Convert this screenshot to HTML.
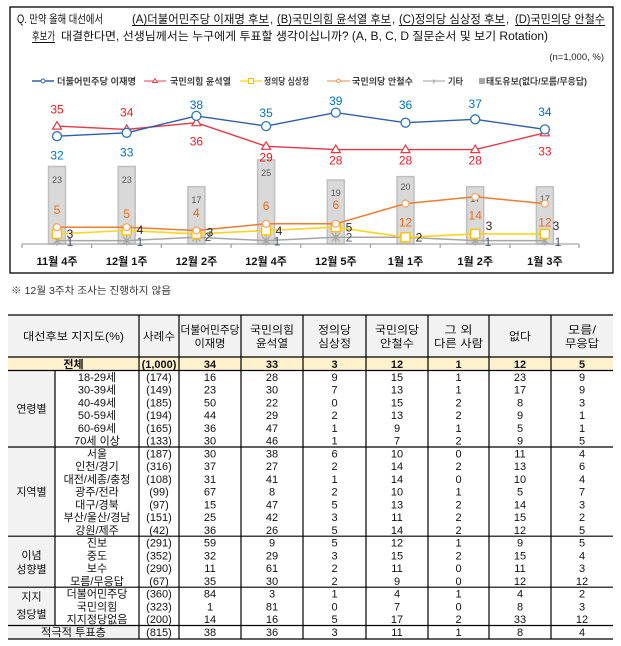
<!DOCTYPE html>
<html><head><meta charset="utf-8">
<style>
html,body{margin:0;padding:0;background:#fff;}
svg{display:block;}
text{font-family:"Liberation Sans","Noto Sans CJK KR",sans-serif;}
</style></head>
<body>
<svg width="621" height="646" viewBox="0 0 621 646" xmlns="http://www.w3.org/2000/svg">
<rect x="0" y="0" width="621" height="646" fill="#fff"/>
<!-- chart frame -->
<rect x="10" y="7" width="603" height="266" fill="none" stroke="#000" stroke-width="1.3"/>
<!-- title -->
<g font-size="11.5" fill="#111">
<text x="17" y="23" textLength="86" lengthAdjust="spacingAndGlyphs">Q. 만약 올해 대선에서</text>
<text x="132" y="23" textLength="137" lengthAdjust="spacingAndGlyphs">(A)더불어민주당 이재명 후보</text>
<text x="270" y="23">,</text>
<text x="277" y="23" textLength="114" lengthAdjust="spacingAndGlyphs">(B)국민의힘 윤석열 후보</text>
<text x="392" y="23">,</text>
<text x="399" y="23" textLength="106" lengthAdjust="spacingAndGlyphs">(C)정의당 심상정 후보</text>
<text x="506" y="23">,</text>
<text x="515" y="23" textLength="90" lengthAdjust="spacingAndGlyphs">(D)국민의당 안철수</text>
<text x="32" y="40" textLength="23" lengthAdjust="spacingAndGlyphs">후보가</text>
<text x="61" y="40" textLength="487" lengthAdjust="spacingAndGlyphs">대결한다면, 선생님께서는 누구에게 투표할 생각이십니까? (A, B, C, D 질문순서 및 보기 Rotation)</text>
</g>
<g stroke="#111" stroke-width="1">
<line x1="132" y1="25.5" x2="269" y2="25.5"/>
<line x1="277" y1="25.5" x2="391" y2="25.5"/>
<line x1="399" y1="25.5" x2="505" y2="25.5"/>
<line x1="515" y1="25.5" x2="605" y2="25.5"/>
<line x1="32" y1="42.5" x2="55" y2="42.5"/>
</g>
<text x="604" y="60" font-size="9.5" fill="#222" text-anchor="end">(n=1,000, %)</text>

<!-- legend -->
<g font-size="9" font-weight="bold" fill="#404040">
<line x1="32" y1="81" x2="54" y2="81" stroke="#2e64ae" stroke-width="1.5"/>
<circle cx="43" cy="81" r="2" fill="#fff" stroke="#2e64ae" stroke-width="1"/>
<text x="57" y="84.5" textLength="79" lengthAdjust="spacingAndGlyphs">더불어민주당 이재명</text>
<line x1="144" y1="81" x2="166" y2="81" stroke="#f08090" stroke-width="1.5"/>
<path d="M155,78.5 L157.5,82.5 L152.5,82.5 Z" fill="#fff" stroke="#e53946" stroke-width="0.9"/>
<text x="170" y="84.5" textLength="61" lengthAdjust="spacingAndGlyphs">국민의힘 윤석열</text>
<line x1="240" y1="81" x2="262" y2="81" stroke="#ffd84a" stroke-width="1.5"/>
<rect x="248.5" y="78.5" width="5" height="5" fill="#fff" stroke="#ffc000" stroke-width="1"/>
<text x="264" y="84.5" textLength="45" lengthAdjust="spacingAndGlyphs">정의당 심상정</text>
<line x1="327" y1="81" x2="350" y2="81" stroke="#f4b183" stroke-width="1.5"/>
<circle cx="338.5" cy="81" r="1.8" fill="#fff" stroke="#ed7d31" stroke-width="0.8"/>
<text x="352" y="84.5" textLength="61" lengthAdjust="spacingAndGlyphs">국민의당 안철수</text>
<line x1="423" y1="81" x2="445" y2="81" stroke="#bfbfbf" stroke-width="1.5"/>
<text x="434" y="83.5" font-size="7" fill="#999" text-anchor="middle" font-weight="normal">x</text>
<text x="448" y="84.5" textLength="15" lengthAdjust="spacingAndGlyphs">기타</text>
<rect x="479" y="78" width="6" height="6" fill="#a6a6a6"/>
<text x="486" y="84.5" textLength="101" lengthAdjust="spacingAndGlyphs">태도유보(없다/모름/무응답)</text>
</g>

<!-- bars -->
<g fill="#d9d9d9" stroke="#bfbfbf" stroke-width="1.5">
<rect x="48.5" y="166.5" width="17" height="77.5"/>
<rect x="118.2" y="166.5" width="17" height="77.5"/>
<rect x="187.9" y="186.7" width="17" height="57.3"/>
<rect x="257.6" y="159.8" width="17" height="84.2"/>
<rect x="327.3" y="180" width="17" height="64"/>
<rect x="397" y="176.6" width="17" height="67.4"/>
<rect x="466.7" y="186.7" width="17" height="57.3"/>
<rect x="536.4" y="186.7" width="17" height="57.3"/>
</g>
<g font-size="9" fill="#595959" text-anchor="middle">
<text x="57" y="183">23</text>
<text x="126.7" y="183">23</text>
<text x="196.4" y="203">17</text>
<text x="266.1" y="176">25</text>
<text x="335.8" y="196">19</text>
<text x="405.5" y="190">20</text>
<text x="475.2" y="202">17</text>
<text x="544.9" y="202">17</text>
</g>

<!-- axis -->
<g stroke="#a6a6a6" stroke-width="1.3">
<line x1="22" y1="244" x2="579" y2="244"/>
<line x1="22" y1="244" x2="22" y2="248"/>
<line x1="91.7" y1="244" x2="91.7" y2="248"/>
<line x1="161.4" y1="244" x2="161.4" y2="248"/>
<line x1="231.1" y1="244" x2="231.1" y2="248"/>
<line x1="300.8" y1="244" x2="300.8" y2="248"/>
<line x1="370.5" y1="244" x2="370.5" y2="248"/>
<line x1="440.2" y1="244" x2="440.2" y2="248"/>
<line x1="509.9" y1="244" x2="509.9" y2="248"/>
<line x1="579" y1="244" x2="579" y2="248"/>
</g>
<g font-size="11" font-weight="bold" fill="#111" text-anchor="middle">
<text x="57" y="265">11월 4주</text>
<text x="126.7" y="265">12월 1주</text>
<text x="196.4" y="265">12월 2주</text>
<text x="266.1" y="265">12월 4주</text>
<text x="335.8" y="265">12월 5주</text>
<text x="405.5" y="265">1월 1주</text>
<text x="475.2" y="265">1월 2주</text>
<text x="544.9" y="265">1월 3주</text>
</g>

<!-- gray line (기타) -->
<polyline points="57,240.6 126.7,240.6 196.4,237.3 266.1,240.6 335.8,237.3 405.5,237.3 475.2,240.6 544.9,240.6" fill="none" stroke="#a6a6a6" stroke-width="1.5"/>
<g stroke="#a6a6a6" stroke-width="1.2">
<path d="M53,236.6 l8,8 M61,236.6 l-8,8 M57,235.6 v10"/>
<path d="M122.7,236.6 l8,8 M130.7,236.6 l-8,8 M126.7,235.6 v10"/>
<path d="M192.4,233.3 l8,8 M200.4,233.3 l-8,8 M196.4,232.3 v10"/>
<path d="M262.1,236.6 l8,8 M270.1,236.6 l-8,8 M266.1,235.6 v10"/>
<path d="M331.8,233.3 l8,8 M339.8,233.3 l-8,8 M335.8,232.3 v10"/>
<path d="M401.5,233.3 l8,8 M409.5,233.3 l-8,8 M405.5,232.3 v10"/>
<path d="M471.2,236.6 l8,8 M479.2,236.6 l-8,8 M475.2,235.6 v10"/>
<path d="M540.9,236.6 l8,8 M548.9,236.6 l-8,8 M544.9,235.6 v10"/>
</g>

<!-- yellow line -->
<polyline points="57,233.9 126.7,230.5 196.4,233.9 266.1,230.5 335.8,227.2 405.5,237.3 475.2,233.9 544.9,233.9" fill="none" stroke="#ffd320" stroke-width="1.6"/>
<g fill="#fff" stroke="#ffc000" stroke-width="1.4">
<rect x="52.5" y="229.4" width="9" height="9"/>
<rect x="122.2" y="226" width="9" height="9"/>
<rect x="191.9" y="229.4" width="9" height="9"/>
<rect x="261.6" y="226" width="9" height="9"/>
<rect x="331.3" y="222.7" width="9" height="9"/>
<rect x="401" y="232.8" width="9" height="9"/>
<rect x="470.7" y="229.4" width="9" height="9"/>
<rect x="540.4" y="229.4" width="9" height="9"/>
</g>

<!-- orange line -->
<polyline points="57,227.2 126.7,227.2 196.4,230.5 266.1,223.8 335.8,223.8 405.5,203.6 475.2,196.8 544.9,203.6" fill="none" stroke="#ed7d31" stroke-width="1.5"/>
<g fill="#fff" stroke="#f4a46a" stroke-width="1.2">
<circle cx="57" cy="227.2" r="3.5"/>
<circle cx="126.7" cy="227.2" r="3.5"/>
<circle cx="196.4" cy="230.5" r="3.5"/>
<circle cx="266.1" cy="223.8" r="3.5"/>
<circle cx="335.8" cy="223.8" r="3.5"/>
<circle cx="405.5" cy="203.6" r="3.5"/>
<circle cx="475.2" cy="196.8" r="3.5"/>
<circle cx="544.9" cy="203.6" r="3.5"/>
</g>

<!-- red line -->
<polyline points="57,126.1 126.7,129.4 196.4,122.7 266.1,146.3 335.8,149.6 405.5,149.6 475.2,149.6 544.9,132.8" fill="none" stroke="#e53946" stroke-width="1.4"/>
<g fill="#fff" stroke="#e53946" stroke-width="1.2">
<path d="M57,121.6 L61.5,129.1 L52.5,129.1 Z"/>
<path d="M126.7,124.9 L131.2,132.4 L122.2,132.4 Z"/>
<path d="M196.4,118.2 L200.9,125.7 L191.9,125.7 Z"/>
<path d="M266.1,141.8 L270.6,149.3 L261.6,149.3 Z"/>
<path d="M335.8,145.1 L340.3,152.6 L331.3,152.6 Z"/>
<path d="M405.5,145.1 L410,152.6 L401,152.6 Z"/>
<path d="M475.2,145.1 L479.7,152.6 L470.7,152.6 Z"/>
<path d="M544.9,128.3 L549.4,135.8 L540.4,135.8 Z"/>
</g>

<!-- blue line -->
<polyline points="57,136.2 126.7,132.8 196.4,115.9 266.1,126.1 335.8,112.6 405.5,122.7 475.2,119.3 544.9,129.4" fill="none" stroke="#2e5ea8" stroke-width="1.4"/>
<g fill="#fff" stroke="#2e75b6" stroke-width="1.3">
<circle cx="57" cy="136.2" r="4.5"/>
<circle cx="126.7" cy="132.8" r="4.5"/>
<circle cx="196.4" cy="115.9" r="4.5"/>
<circle cx="266.1" cy="126.1" r="4.5"/>
<circle cx="335.8" cy="112.6" r="4.5"/>
<circle cx="405.5" cy="122.7" r="4.5"/>
<circle cx="475.2" cy="119.3" r="4.5"/>
<circle cx="544.9" cy="129.4" r="4.5"/>
</g>

<!-- data labels -->
<g font-size="12" text-anchor="middle">
<g fill="#0070c0">
<text x="57" y="159.5">32</text>
<text x="126.7" y="156.5">33</text>
<text x="196.4" y="109">38</text>
<text x="266.1" y="117">35</text>
<text x="335.8" y="105">39</text>
<text x="405.5" y="109">36</text>
<text x="475.2" y="108">37</text>
<text x="544.9" y="116">34</text>
</g>
<g fill="#ee1c25">
<text x="57" y="113.5">35</text>
<text x="126.7" y="116.5">34</text>
<text x="196.4" y="145.5">36</text>
<text x="266.1" y="161.5">29</text>
<text x="335.8" y="164.5">28</text>
<text x="405.5" y="164.5">28</text>
<text x="475.2" y="164.5">28</text>
<text x="544.9" y="155.5">33</text>
</g>
<g fill="#ee6a1a">
<text x="57" y="214">5</text>
<text x="126.7" y="218">5</text>
<text x="196.4" y="217">4</text>
<text x="266.1" y="210">6</text>
<text x="335.8" y="209">6</text>
<text x="405.5" y="226.5">12</text>
<text x="475.2" y="219.5">14</text>
<text x="544.9" y="226.5">12</text>
</g>
<g fill="#262626">
<text x="70" y="238">3</text>
<text x="140" y="234">4</text>
<text x="210" y="236.5">3</text>
<text x="279" y="235">4</text>
<text x="349" y="231.5">5</text>
<text x="419" y="241.5">2</text>
<text x="489" y="230">3</text>
<text x="556" y="230">3</text>
</g>
<g fill="#44546a">
<text x="70" y="246">1</text>
<text x="140" y="246">1</text>
<text x="208" y="241">2</text>
<text x="277" y="245.5">1</text>
<text x="349" y="241.5">2</text>
<text x="488" y="246">1</text>
<text x="558" y="246">1</text>
</g>
</g>

<!-- footnote -->
<text x="11" y="294" font-size="10" fill="#333" textLength="160" lengthAdjust="spacingAndGlyphs">※ 12월 3주차 조사는 진행하지 않음</text>

<!-- TABLE -->
<rect x="8" y="315" width="605" height="42" fill="#f2f2f2"/>
<rect x="8" y="357" width="605" height="13.5" fill="#fff2cc"/>
<rect x="8" y="370.5" width="47" height="255" fill="#f2f2f2"/>
<rect x="8" y="625.5" width="131" height="13.5" fill="#f2f2f2"/>
<g stroke="#000" stroke-width="1.2">
<line x1="8" y1="315" x2="613" y2="315"/>
<line x1="8" y1="357" x2="613" y2="357"/>
<line x1="8" y1="370.5" x2="613" y2="370.5"/>
<line x1="8" y1="447" x2="613" y2="447"/>
<line x1="8" y1="536.2" x2="613" y2="536.2"/>
<line x1="8" y1="587.2" x2="613" y2="587.2"/>
<line x1="8" y1="625.5" x2="613" y2="625.5"/>
<line x1="8" y1="639" x2="613" y2="639"/>
<line x1="55" y1="370.5" x2="55" y2="625.5"/>
<line x1="139" y1="315" x2="139" y2="639"/>
<line x1="179" y1="315" x2="179" y2="639"/>
<line x1="241" y1="315" x2="241" y2="639"/>
<line x1="303" y1="315" x2="303" y2="639"/>
<line x1="366" y1="315" x2="366" y2="639"/>
<line x1="428" y1="315" x2="428" y2="639"/>
<line x1="489" y1="315" x2="489" y2="639"/>
<line x1="551" y1="315" x2="551" y2="639"/>
</g>
<g font-size="11" fill="#111" text-anchor="middle">
<text x="73.5" y="340" textLength="101" lengthAdjust="spacingAndGlyphs">대선후보 지지도(%)</text>
<text x="159" y="340" textLength="32" lengthAdjust="spacingAndGlyphs">사례수</text>
<text x="210" y="333.5" textLength="59" lengthAdjust="spacingAndGlyphs">더불어민주당</text>
<text x="210" y="347" textLength="31" lengthAdjust="spacingAndGlyphs">이재명</text>
<text x="272" y="333.5" textLength="44" lengthAdjust="spacingAndGlyphs">국민의힘</text>
<text x="272" y="347" textLength="32" lengthAdjust="spacingAndGlyphs">윤석열</text>
<text x="334.5" y="333.5" textLength="33" lengthAdjust="spacingAndGlyphs">정의당</text>
<text x="334.5" y="347" textLength="33" lengthAdjust="spacingAndGlyphs">심상정</text>
<text x="397" y="333.5" textLength="44" lengthAdjust="spacingAndGlyphs">국민의당</text>
<text x="397" y="347" textLength="34" lengthAdjust="spacingAndGlyphs">안철수</text>
<text x="458.5" y="333.5" textLength="28" lengthAdjust="spacingAndGlyphs">그 외</text>
<text x="458.5" y="347" textLength="49" lengthAdjust="spacingAndGlyphs">다른 사람</text>
<text x="520" y="340" textLength="22" lengthAdjust="spacingAndGlyphs">없다</text>
<text x="582" y="333.5" textLength="28" lengthAdjust="spacingAndGlyphs">모름/</text>
<text x="582" y="347" textLength="34" lengthAdjust="spacingAndGlyphs">무응답</text>
</g>
<g font-size="11" font-weight="bold" fill="#111" text-anchor="middle">
<text x="73.5" y="368">전체</text>
<text x="159" y="368">(1,000)</text>
<text x="210" y="368">34</text>
<text x="272" y="368">33</text>
<text x="334.5" y="368">3</text>
<text x="397" y="368">12</text>
<text x="458.5" y="368">1</text>
<text x="520" y="368">12</text>
<text x="582" y="368">5</text>
</g>
<g font-size="11" fill="#111" text-anchor="middle">
<text x="31.5" y="412.5">연령별</text>
<text x="31.5" y="495.5">지역별</text>
<text x="31.5" y="559">이념</text>
<text x="31.5" y="573">성향별</text>
<text x="31.5" y="600.5">지지</text>
<text x="31.5" y="618">정당별</text>
<text x="73.5" y="636" textLength="65" lengthAdjust="spacingAndGlyphs">적극적 투표층</text>
</g>
<g font-size="11" fill="#111" text-anchor="middle">
<g transform="translate(0,380.9)">
<text x="97">18-29세</text><text x="159">(174)</text><text x="210">16</text><text x="272">28</text><text x="334.5">9</text><text x="397">15</text><text x="458.5">1</text><text x="520">23</text><text x="582">9</text>
</g>
<g transform="translate(0,393.6)">
<text x="97">30-39세</text><text x="159">(149)</text><text x="210">23</text><text x="272">30</text><text x="334.5">7</text><text x="397">13</text><text x="458.5">1</text><text x="520">17</text><text x="582">9</text>
</g>
<g transform="translate(0,406.4)">
<text x="97">40-49세</text><text x="159">(185)</text><text x="210">50</text><text x="272">22</text><text x="334.5">0</text><text x="397">15</text><text x="458.5">2</text><text x="520">8</text><text x="582">3</text>
</g>
<g transform="translate(0,419.1)">
<text x="97">50-59세</text><text x="159">(194)</text><text x="210">44</text><text x="272">29</text><text x="334.5">2</text><text x="397">13</text><text x="458.5">2</text><text x="520">9</text><text x="582">1</text>
</g>
<g transform="translate(0,431.9)">
<text x="97">60-69세</text><text x="159">(165)</text><text x="210">36</text><text x="272">47</text><text x="334.5">1</text><text x="397">9</text><text x="458.5">1</text><text x="520">5</text><text x="582">1</text>
</g>
<g transform="translate(0,444.6)">
<text x="97">70세 이상</text><text x="159">(133)</text><text x="210">30</text><text x="272">46</text><text x="334.5">1</text><text x="397">7</text><text x="458.5">2</text><text x="520">9</text><text x="582">5</text>
</g>
<g transform="translate(0,457.4)">
<text x="97">서울</text><text x="159">(187)</text><text x="210">30</text><text x="272">38</text><text x="334.5">6</text><text x="397">10</text><text x="458.5">0</text><text x="520">11</text><text x="582">4</text>
</g>
<g transform="translate(0,470.1)">
<text x="97">인천/경기</text><text x="159">(316)</text><text x="210">37</text><text x="272">27</text><text x="334.5">2</text><text x="397">14</text><text x="458.5">2</text><text x="520">13</text><text x="582">6</text>
</g>
<g transform="translate(0,482.9)">
<text x="97">대전/세종/충청</text><text x="159">(108)</text><text x="210">31</text><text x="272">41</text><text x="334.5">1</text><text x="397">14</text><text x="458.5">0</text><text x="520">10</text><text x="582">4</text>
</g>
<g transform="translate(0,495.6)">
<text x="97">광주/전라</text><text x="159">(99)</text><text x="210">67</text><text x="272">8</text><text x="334.5">2</text><text x="397">10</text><text x="458.5">1</text><text x="520">5</text><text x="582">7</text>
</g>
<g transform="translate(0,508.4)">
<text x="97">대구/경북</text><text x="159">(97)</text><text x="210">15</text><text x="272">47</text><text x="334.5">5</text><text x="397">13</text><text x="458.5">2</text><text x="520">14</text><text x="582">3</text>
</g>
<g transform="translate(0,521.1)">
<text x="97">부산/울산/경남</text><text x="159">(151)</text><text x="210">25</text><text x="272">42</text><text x="334.5">3</text><text x="397">11</text><text x="458.5">2</text><text x="520">15</text><text x="582">2</text>
</g>
<g transform="translate(0,533.9)">
<text x="97">강원/제주</text><text x="159">(42)</text><text x="210">36</text><text x="272">26</text><text x="334.5">5</text><text x="397">14</text><text x="458.5">2</text><text x="520">12</text><text x="582">5</text>
</g>
<g transform="translate(0,546.6)">
<text x="97">진보</text><text x="159">(291)</text><text x="210">59</text><text x="272">9</text><text x="334.5">5</text><text x="397">12</text><text x="458.5">1</text><text x="520">9</text><text x="582">5</text>
</g>
<g transform="translate(0,559.4)">
<text x="97">중도</text><text x="159">(352)</text><text x="210">32</text><text x="272">29</text><text x="334.5">3</text><text x="397">15</text><text x="458.5">2</text><text x="520">15</text><text x="582">4</text>
</g>
<g transform="translate(0,572.1)">
<text x="97">보수</text><text x="159">(290)</text><text x="210">11</text><text x="272">61</text><text x="334.5">2</text><text x="397">11</text><text x="458.5">0</text><text x="520">11</text><text x="582">3</text>
</g>
<g transform="translate(0,584.9)">
<text x="97">모름/무응답</text><text x="159">(67)</text><text x="210">35</text><text x="272">30</text><text x="334.5">2</text><text x="397">9</text><text x="458.5">0</text><text x="520">12</text><text x="582">12</text>
</g>
<g transform="translate(0,597.6)">
<text x="97">더불어민주당</text><text x="159">(360)</text><text x="210">84</text><text x="272">3</text><text x="334.5">1</text><text x="397">4</text><text x="458.5">1</text><text x="520">4</text><text x="582">2</text>
</g>
<g transform="translate(0,610.4)">
<text x="97">국민의힘</text><text x="159">(323)</text><text x="210">1</text><text x="272">81</text><text x="334.5">0</text><text x="397">7</text><text x="458.5">0</text><text x="520">8</text><text x="582">3</text>
</g>
<g transform="translate(0,623.1)">
<text x="97">지지정당없음</text><text x="159">(200)</text><text x="210">14</text><text x="272">16</text><text x="334.5">5</text><text x="397">17</text><text x="458.5">2</text><text x="520">33</text><text x="582">12</text>
</g>
<g transform="translate(0,635.9)">
<text x="159">(815)</text><text x="210">38</text><text x="272">36</text><text x="334.5">3</text><text x="397">11</text><text x="458.5">1</text><text x="520">8</text><text x="582">4</text>
</g>
</g>
</svg>
</body></html>
